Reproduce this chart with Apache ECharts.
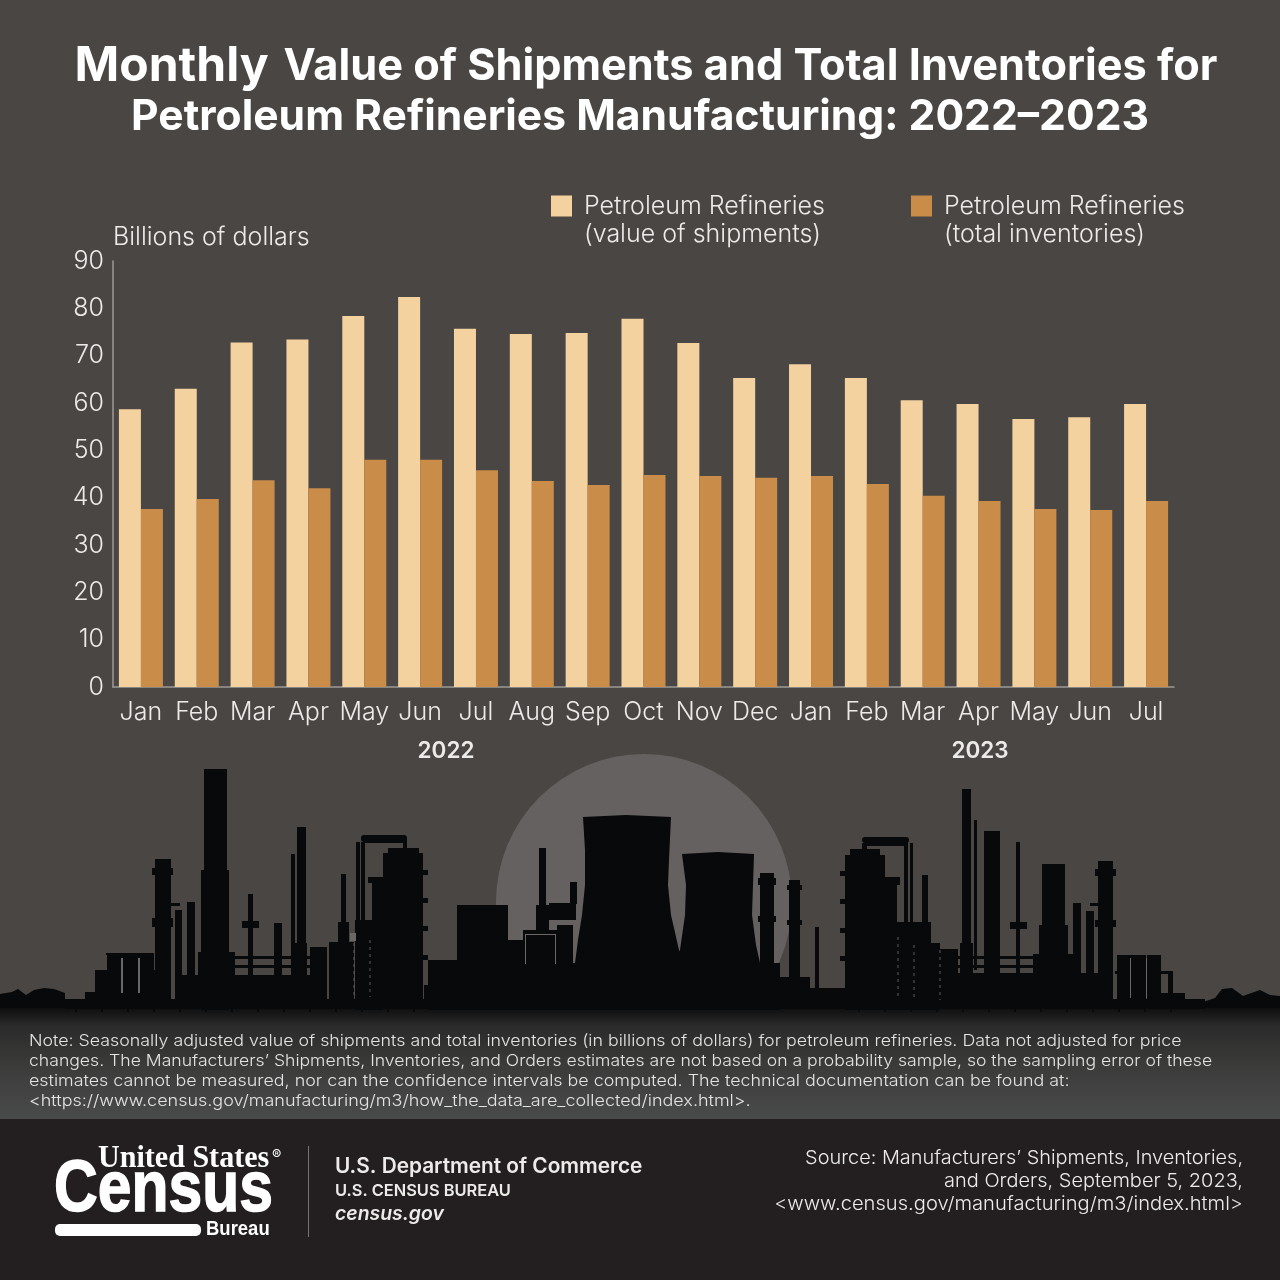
<!DOCTYPE html>
<html>
<head>
    <meta charset="utf-8">
    <script src="https://cdn.jsdelivr.net/npm/echarts@6/dist/echarts.min.js"></script>
    <style>
        html, body { margin: 0; padding: 0; background: #4a4643; }
    </style>
</head>
<body>
    <div id="chart" style="width: 1280px;height:1280px;"></div>
    <script>
        const months = ['Jan', 'Feb', 'Mar', 'Apr', 'May', 'Jun', 'Jul', 'Aug', 'Sep', 'Oct', 'Nov', 'Dec',
            'Jan', 'Feb', 'Mar', 'Apr', 'May', 'Jun', 'Jul'];
        const shipments = [58.7, 63.0, 72.8, 73.4, 78.4, 82.4, 75.7, 74.6, 74.8, 77.8, 72.7, 65.3,
            68.2, 65.3, 60.6, 59.8, 56.6, 57.0, 59.8];
        const inventories = [37.6, 39.7, 43.7, 42.0, 48.0, 48.0, 45.8, 43.5, 42.7, 44.8, 44.6, 44.2,
            44.6, 42.9, 40.4, 39.3, 37.6, 37.4, 39.3];
        const yearLabels = ['2022', '2023'];
        const noteLines = [
            'Note: Seasonally adjusted value of shipments and total inventories (in billions of dollars) for petroleum refineries. Data not adjusted for price',
            'changes. The Manufacturers\u2019 Shipments, Inventories, and Orders estimates are not based on a probability sample, so the sampling error of these',
            'estimates cannot be measured, nor can the confidence intervals be computed. The technical documentation can be found at:',
            '<https://www.census.gov/manufacturing/m3/how_the_data_are_collected/index.html>.'
        ];
        const sourceLines = [
            'Source: Manufacturers\u2019 Shipments, Inventories,',
            'and Orders, September 5, 2023,',
            '<www.census.gov/manufacturing/m3/index.html>'
        ];

        const FONT = 'Inter, "Noto Sans", sans-serif';
        const BLACK = '#08090b';
        const BG = '#4a4643';
        // Inter is narrower than the original face, stretch each line to its width
        const noteStretch = [1.1, 1.088, 1.105, 1.111];
        const sourceStretch = [1.076, 1.08, 1.088];

        // skyline decoration, plain x, y, w, h boxes
        const skyline = [
            // left plant
            [65, 999, 1140, 10], [85, 992, 30, 8], [95, 970, 60, 30], [107, 955, 47, 50], [106, 953, 48, 2], [204, 769, 23, 240], [201, 870, 28, 140],
            [198, 952, 37, 50], [155, 859, 16, 145], [152, 868, 21, 7], [152, 918, 21, 9], [175, 910, 7, 90], [171, 903, 9, 3],
            [187, 902, 8, 90], [248, 894, 5, 110], [242, 921, 17, 7], [274, 923, 8, 80], [291, 854, 4, 150], [297, 827, 9, 180],
            [295, 943, 12, 60], [235, 956, 75, 3], [235, 965, 75, 3], [180, 975, 130, 30], [310, 947, 17, 60], [329, 942, 25, 65],
            [341, 874, 5, 60], [338, 922, 11, 30], [356, 842, 4, 90], [361, 842, 4, 90], [365, 840, 42, 3], [403, 838, 4, 12],
            [383, 853, 40, 156], [388, 848, 31, 6], [372, 880, 11, 130], [368, 877, 15, 6], [355, 920, 18, 90],
            [423, 870, 5, 5], [423, 898, 5, 5], [423, 926, 5, 5], [423, 955, 5, 5], [424, 985, 4, 15],
            [428, 960, 29, 50], [457, 905, 51, 105], [508, 940, 15, 70], [523, 930, 34, 80], [539, 848, 7, 60], [536, 905, 13, 27],
            [549, 903, 27, 17], [570, 882, 7, 22], [557, 925, 16, 80], [520, 963, 260, 47],
            // right plant
            [760, 873, 14, 110], [758, 878, 18, 7], [758, 916, 18, 6], [789, 880, 11, 110], [787, 885, 15, 5], [787, 920, 15, 5],
            [774, 966, 6, 30], [780, 977, 30, 30], [815, 927, 4, 65], [810, 988, 40, 20],
            [845, 855, 40, 155], [850, 849, 30, 8], [885, 880, 12, 130], [885, 877, 15, 8], [840, 871, 5, 5], [840, 899, 5, 5], [840, 928, 5, 5], [840, 956, 5, 5],
            [862, 843, 5, 12], [904, 842, 4, 85], [910, 843, 3, 85], [867, 843, 40, 3], [922, 875, 6, 60], [897, 922, 34, 88], [901, 943, 39, 67], [940, 949, 18, 60],
            [962, 789, 9, 215], [960, 943, 13, 60], [974, 820, 3, 150], [984, 831, 16, 175], [1016, 842, 4, 160], [1010, 922, 17, 7],
            [1042, 864, 23, 140], [1039, 925, 29, 80], [1033, 954, 42, 50], [958, 956, 75, 3], [958, 965, 75, 3], [958, 973, 155, 35],
            [1073, 903, 8, 100], [1086, 911, 8, 90], [1090, 903, 8, 3], [1098, 861, 15, 145], [1095, 869, 21, 7], [1095, 920, 21, 7],
            [1117, 955, 15, 50], [1131, 955, 15, 50], [1147, 955, 14, 50], [1115, 971, 58, 3], [1168, 972, 5, 25], [1160, 993, 25, 6], [1180, 999, 25, 9]
        ];
        // rounded pipe arches over the two big columns
        const skylineArches = [[361, 835, 46, 7], [862, 837, 47, 6]];
        // thin gaps cut back into the silhouette
        const skylineGaps = [
            [121, 958, 2, 35], [138, 958, 2, 35], [525, 934, 31, 1], [525, 934, 1, 30], [555, 934, 1, 30], [350, 933, 6, 8],
            [1130, 958, 1, 40], [1146, 958, 1, 40]
        ];
        // dotted lattice columns, x, y top, y bottom
        const skylineLattice = [[354, 943, 997], [370, 940, 997], [898, 937, 1000], [914, 945, 1000], [940, 950, 1000]];
        const skylinePolys = [
            // cooling towers
            [[583, 817], [626, 815], [671, 817], [669, 860], [668, 885], [671, 915], [679, 950], [690, 970], [565, 970], [575, 963], [578, 940], [582, 915], [585, 885], [585, 850]],
            [[682, 854], [718, 852], [754, 854], [753, 885], [752, 915], [756, 945], [762, 972], [674, 972], [680, 950], [685, 915], [686, 885]],
            // trees at both ends
            [[0, 994], [12, 992], [18, 989], [26, 995], [34, 990], [44, 988], [54, 989], [65, 993], [65, 1008], [0, 1008]],
            [[1203, 1002], [1215, 998], [1222, 989], [1232, 988], [1243, 996], [1260, 990], [1270, 995], [1280, 996], [1280, 1008], [1203, 1008]]
        ];

        function textEl(str, x, y, size, opt) {
            opt = opt || {};
            const st = {
                text: str, fill: opt.fill || '#ecebea', fontFamily: opt.family || FONT, fontSize: size,
                fontWeight: opt.weight || 400, fontStyle: opt.style || 'normal',
                align: opt.align || 'left', verticalAlign: 'middle'
            };
            if (opt.stroke) {
                st.stroke = opt.fill;
                st.lineWidth = opt.stroke;
            }
            return { type: 'text', x: x, y: y, scaleX: opt.scaleX || 1, z: 5, silent: true, style: st };
        }
        function box(b, fill, z, r) {
            return { type: 'rect', z: z, silent: true, shape: { x: b[0], y: b[1], width: b[2], height: b[3], r: r || 0 }, style: { fill: fill } };
        }

        const graphics = [];
        // moon goes first, bands cover its lower part
        graphics.push({ type: 'circle', z: 1, silent: true, shape: { cx: 644, cy: 902, r: 148 }, style: { fill: '#656160' } });
        graphics.push({
            type: 'rect', z: 1, silent: true, shape: { x: 0, y: 1005, width: 1280, height: 114 },
            style: {
                fill: new echarts.graphic.LinearGradient(0, 0, 0, 1, [
                    { offset: 0, color: '#0a0a0b' }, { offset: 0.18, color: '#2a2a2a' },
                    { offset: 0.5, color: '#3a3a39' }, { offset: 1, color: '#494b4a' }
                ])
            }
        });
        graphics.push(box([0, 1119, 1280, 161], '#231f20', 1));

        skyline.forEach(b => graphics.push(box(b, BLACK, 2)));
        skylineArches.forEach(b => graphics.push(box(b, BLACK, 2, 3)));
        skylinePolys.forEach(p => graphics.push({ type: 'polygon', z: 2, silent: true, shape: { points: p }, style: { fill: BLACK } }));
        skylineGaps.forEach(b => graphics.push(box(b, '#6a6866', 3)));
        skylineLattice.forEach(l => graphics.push({
            type: 'line', z: 3, silent: true, shape: { x1: l[0], y1: l[1], x2: l[0], y2: l[2] },
            style: { stroke: '#5e5c5a', lineWidth: 1, lineDash: [3, 4] }
        }));
        // little feet under the ground line
        for (let fx = 75; fx < 430; fx += 26) graphics.push(box([fx, 1008, 2, 4], BLACK, 2));
        for (let fx = 858; fx < 1195; fx += 26) graphics.push(box([fx, 1008, 2, 4], BLACK, 2));

        graphics.push(textEl(yearLabels[0], 446, 751, 22.5, { weight: 600, align: 'center' }));
        graphics.push(textEl(yearLabels[1], 980, 751, 22.5, { weight: 600, align: 'center' }));

        noteLines.forEach((l, i) => graphics.push(textEl(l, 29, 1041 + i * 20, 16.2, { fill: '#e4e4e2', weight: 300, scaleX: noteStretch[i] })));
        sourceLines.forEach((l, i) => graphics.push(textEl(l, 1243, 1158 + i * 23, 18.5, { align: 'right', weight: 300, scaleX: sourceStretch[i] })));

        // census block
        const WIDE = '"Liberation Sans", sans-serif';
        graphics.push(textEl('United States', 98, 1159, 31, { family: '"Liberation Serif", serif', weight: 700, fill: '#fff', scaleX: 0.97 }));
        graphics.push(textEl('\u00ae', 272, 1156, 14, { fill: '#fff' }));
        graphics.push(textEl('Census', 54, 1191, 73, { family: WIDE, weight: 700, fill: '#fff', scaleX: 0.83, stroke: 1.5 }));
        graphics.push(box([55, 1224, 146, 12], '#fff', 5, 5));
        graphics.push(textEl('Bureau', 206, 1229, 21, { family: WIDE, weight: 700, fill: '#fff', scaleX: 0.88 }));
        graphics.push(box([308, 1146, 1, 91], '#77736f', 5));
        graphics.push(textEl('U.S. Department of Commerce', 335, 1167, 20.8, { weight: 600 }));
        graphics.push(textEl('U.S. CENSUS BUREAU', 335, 1191, 16.4, { weight: 600 }));
        graphics.push(textEl('census.gov', 335, 1214, 19.4, { weight: 600, style: 'italic' }));

        // blank first line keeps the swatch level with the first text line
        const legendName = { 'Shipments': ' \nPetroleum Refineries\n(value of shipments)', 'Inventories': ' \nPetroleum Refineries\n(total inventories)' };
        function legendOpt(name, left) {
            return {
                data: [name], left: left, top: 164, orient: 'horizontal', itemWidth: 21, itemHeight: 21,
                icon: 'rect', selectedMode: false, itemGap: 0, padding: 0,
                formatter: n => legendName[n],
                textStyle: {
                    color: '#ecebea', fontFamily: FONT, fontSize: 25, fontWeight: 300, lineHeight: 28,
                    padding: [0, 0, 0, 7]
                }
            };
        }

        const chart = echarts.init(document.getElementById('chart'));
        chart.setOption({
            backgroundColor: BG,
            animation: false,
            title: [{
                text: '{a|Monthly} {b|Value of Shipments and Total Inventories for}',
                left: 641, top: 38, textAlign: 'center',
                textStyle: { rich: {
                    a: { fontFamily: FONT, fontSize: 48, fontWeight: 700, color: '#fff', padding: [0, 10, 0, 0] },
                    b: { fontFamily: FONT, fontSize: 43.3, fontWeight: 700, color: '#fff' }
                } }
            }, {
                text: 'Petroleum Refineries Manufacturing: 2022\u20132023',
                left: 635, top: 91, textAlign: 'center',
                textStyle: { fontFamily: FONT, fontSize: 42.6, fontWeight: 700, color: '#fff' }
            }],
            legend: [legendOpt('Shipments', 551), legendOpt('Inventories', 911)],
            grid: { left: 113, top: 261, width: 1061, height: 426, containLabel: false },
            xAxis: {
                type: 'category', data: months,
                axisTick: { show: false },
                axisLine: { lineStyle: { color: '#9c9a97', width: 1.5 } },
                axisLabel: { color: '#ecebea', fontFamily: FONT, fontSize: 25, fontWeight: 300, margin: 13, interval: 0 }
            },
            yAxis: {
                type: 'value', min: 0, max: 90, interval: 10,
                name: 'Billions of dollars', nameLocation: 'end', nameGap: 11,
                nameTextStyle: { color: '#ecebea', fontFamily: FONT, fontSize: 25, fontWeight: 300, align: 'left' },
                splitLine: { show: false }, axisTick: { show: false },
                axisLine: { show: true, lineStyle: { color: '#9c9a97', width: 1.5 } },
                axisLabel: { color: '#ecebea', fontFamily: FONT, fontSize: 25, fontWeight: 300, margin: 9, padding: [0, 0, 5, 0] }
            },
            series: [
                { name: 'Shipments', type: 'bar', data: shipments, barWidth: 22, barGap: 0, itemStyle: { color: '#f4d2a0' } },
                { name: 'Inventories', type: 'bar', data: inventories, barWidth: 22, barGap: 0, itemStyle: { color: '#c98c49' } }
            ],
            graphic: graphics
        });
    </script>
</body>
</html>
